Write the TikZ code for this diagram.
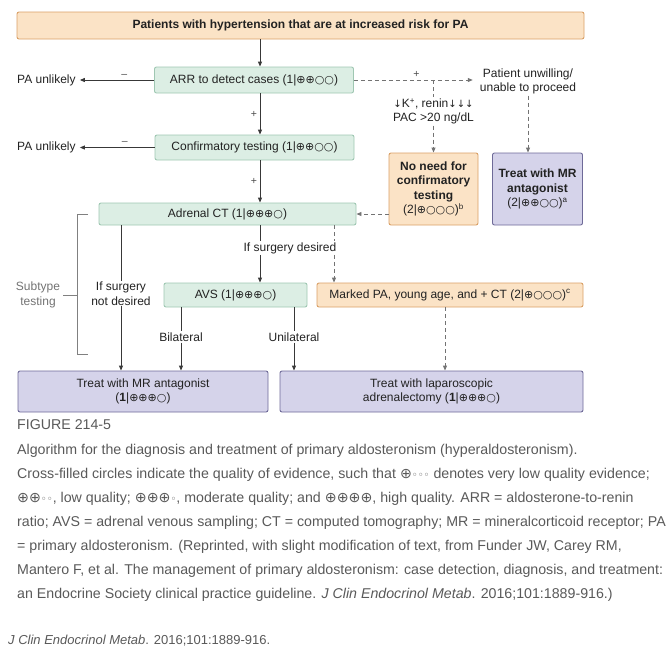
\documentclass[tikz,border=0pt]{standalone}
\usepackage{fontspec}
\setmainfont{Liberation Sans}
\newfontfamily\symfont{DejaVu Sans}
\usetikzlibrary{arrows.meta}

\definecolor{orfill}{HTML}{FBE3C6}
\definecolor{ordraw}{HTML}{D9A066}
\definecolor{grfill}{HTML}{DCEEE4}
\definecolor{grdraw}{HTML}{9FC7B2}
\definecolor{pufill}{HTML}{D5D3EA}
\definecolor{pudraw}{HTML}{6E6A98}
\definecolor{ink}{HTML}{222222}
\definecolor{capgray}{HTML}{595959}

% evidence grades
\newcommand{\qp}{{\symfont\fontsize{11}{11}\selectfont ⊕}}
\newcommand{\qo}{{\symfont\fontsize{11}{11}\selectfont ○}}
\newcommand{\cp}{{\symfont ⊕}}
\newcommand{\co}{{\symfont\fontsize{10}{10}\selectfont ◦}}
\newcommand{\dn}{{\symfont\fontsize{10}{10}\selectfont ↓}}

\tikzset{
  box/.style={rectangle, rounded corners=2pt, line width=0.9pt, inner sep=2pt, align=center, text=ink},
  greenbox/.style={box, draw=grdraw, fill=grfill},
  orangebox/.style={box, draw=ordraw, fill=orfill},
  purplebox/.style={box, draw=pudraw, fill=pufill},
  flow/.style={draw=ink!90, line width=0.9pt},
  dashflow/.style={draw=black!55, line width=0.9pt, dash pattern=on 4pt off 3pt},
  flowtip/.style={-{Triangle[length=5pt,width=4pt]}},
  lbl/.style={text=ink, align=center, inner sep=1pt},
  sign/.style={text=black!70, inner sep=2.5pt, font=\fontsize{10.5}{10.5}\selectfont},
  bracket/.style={draw=black!50, line width=0.9pt},
  capline/.style={anchor=base west, text=capgray, inner sep=0pt, font=\fontsize{14.2}{16}\selectfont},
}

\begin{document}
\begin{tikzpicture}[x=1pt, y=-1pt, font=\fontsize{12}{14.5}\selectfont]
  \useasboundingbox (0,0) rectangle (668,657);
  \coordinate (spine) at (260,0);
  \coordinate (dsh) at (334,0);
  \coordinate (lapx) at (445,0);

  % Boxes
  \node[orangebox, minimum width=567pt, minimum height=27pt, font=\bfseries\fontsize{12}{14.5}\selectfont] (risk) at (300.5,25.5) {Patients with hypertension that are at increased risk for PA};
  \node[greenbox, minimum width=199pt, minimum height=26pt] (arr) at (254,80) {ARR to detect cases (1|\qp\qp\qo\qo)};
  \node[greenbox, minimum width=199pt, minimum height=25pt] (conf) at (254.5,147.5) {Confirmatory testing (1|\qp\qp\qo\qo)};
  \node[greenbox, minimum width=257pt, minimum height=22pt] (ct) at (227.5,214) {Adrenal CT (1|\qp\qp\qp\qo)};
  \node[greenbox, minimum width=143pt, minimum height=24pt] (avs) at (235.5,295) {AVS (1|\qp\qp\qp\qo)};
  \node[orangebox, minimum width=266pt, minimum height=24pt] (marked) at (450,295) {Marked PA, young age, and + CT (2|\qp\qo\qo\qo)\textsuperscript{c}};
  \node[orangebox, minimum width=89pt, minimum height=72pt] (nocf) at (433.5,189) {\textbf{No need for}\\\textbf{confirmatory}\\\textbf{testing}\\(2|\qp\qo\qo\qo)\textsuperscript{b}};
  \node[purplebox, minimum width=90pt, minimum height=72pt] (mrra) at (537.5,189) {\textbf{Treat with MR}\\\textbf{antagonist}\\(2|\qp\qp\qo\qo)\textsuperscript{a}};
  \node[purplebox, minimum width=250pt, minimum height=41pt] (mrrx) at (143,391.5) {Treat with MR antagonist\\(\textbf{1}|\qp\qp\qp\qo)};
  \node[purplebox, minimum width=303pt, minimum height=41pt] (lap) at (431.5,391.5) {Treat with laparoscopic\\adrenalectomy (\textbf{1}|\qp\qp\qp\qo)};

  % Free labels
  \node[lbl, anchor=west, inner xsep=4pt] (pa1) at (13,80) {PA unlikely};
  \node[lbl, anchor=west, inner xsep=4pt] (pa2) at (13,147.5) {PA unlikely};
  \node[lbl] (pu) at (528,81.5) {Patient unwilling/\\unable to proceed};
  \coordinate (fork) at (433.5,80);
  \node[lbl] (krp) at (433.5,111.5) {\dn K\textsuperscript{+}, renin\dn\dn\dn\\PAC >20 ng/dL};
  \node[lbl] (sdes) at (290,248) {If surgery desired};
  \node[lbl] (snd) at (121,293.5) {If surgery\\not desired};
  \node[lbl] (bil) at (181,337) {Bilateral};
  \node[lbl] (uni) at (294,337) {Unilateral};
  \node[lbl, text=black!55, inner sep=3pt] (sub) at (38,295) {Subtype\\testing};

  % Screening and confirmation
  \draw[flow, flowtip] (risk.south -| spine) -- (arr.north -| spine);
  \draw[flow, flowtip] (arr) -- node[sign, above, pos=0.4] {–} (pa1);
  \draw[flow, flowtip] (arr.south -| spine) -- node[sign, left] {+} (conf.north -| spine);
  \draw[flow, flowtip] (conf) -- node[sign, above, pos=0.4] {–} (pa2);
  \draw[flow, flowtip] (conf.south -| spine) -- node[sign, left] {+} (ct.north -| spine);
  \draw[dashflow, flowtip, shorten >=6pt] (arr) -- node[sign, above] {+} (pu.west |- arr);
  \draw[dashflow] (fork) -- (krp);
  \draw[dashflow, flowtip] (krp) -- (nocf);
  \draw[dashflow, flowtip] (pu.south) -- (pu.south |- mrra.north);
  \draw[dashflow, flowtip] (nocf.west |- ct) -- (ct);

  % Subtype testing
  \draw[flow] (ct.south -| spine) -- (sdes.north -| spine);
  \draw[flow, flowtip] (sdes.south -| spine) -- (avs.north -| spine);
  \draw[dashflow] (ct.south -| dsh) -- (sdes.north -| dsh);
  \draw[dashflow, flowtip] (sdes.south -| dsh) -- (marked.north -| dsh);
  \draw[flow] (ct.south -| snd) -- (snd);
  \draw[flow, flowtip] (snd) -- (snd |- mrrx.north);
  \draw[flow] (avs.south -| bil) -- (bil);
  \draw[flow, flowtip] (bil) -- (bil |- mrrx.north);
  \draw[flow] (avs.south -| uni) -- (uni);
  \draw[flow, flowtip] (uni) -- (uni |- lap.north);
  \draw[dashflow, flowtip] (marked.south -| lapx) -- (lap.north -| lapx);

  % Bracket
  \draw[bracket] (88,214) -- (77,214) -- (77,354) -- (88,354);
  \draw[bracket] (sub.east) -- (77,295);

  % Caption
  \node[capline] (cap1) at (17,429.5) {FIGURE 214-5};
  \node[capline] (cap2) at (17,454.5) {Algorithm for the diagnosis and treatment of primary aldosteronism (hyperaldosteronism).};
  \node[capline] (cap3) at (17,478) {Cross-filled circles indicate the quality of evidence, such that \cp\co\co\co{} denotes very low quality evidence;};
  \node[capline] (cap4) at (17,502) {\cp\cp\co\co, low quality; \cp\cp\cp\co, moderate quality; and \cp\cp\cp\cp, high quality. ARR = aldosterone-to-renin};
  \node[capline] (cap5) at (17,526) {ratio; AVS = adrenal venous sampling; CT = computed tomography; MR = mineralcorticoid receptor; PA};
  \node[capline] (cap6) at (17,550) {= primary aldosteronism. (Reprinted, with slight modification of text, from Funder JW, Carey RM,};
  \node[capline] (cap7) at (17,574) {Mantero F, et al. The management of primary aldosteronism: case detection, diagnosis, and treatment:};
  \node[capline] (cap8) at (17,598) {an Endocrine Society clinical practice guideline. \textit{J Clin Endocrinol Metab}. 2016;101:1889-916.)};
  \node[capline, font=\fontsize{13}{15}\selectfont] (src) at (8,644.5) {\textit{J Clin Endocrinol Metab}. 2016;101:1889-916.};
\end{tikzpicture}
\end{document}
